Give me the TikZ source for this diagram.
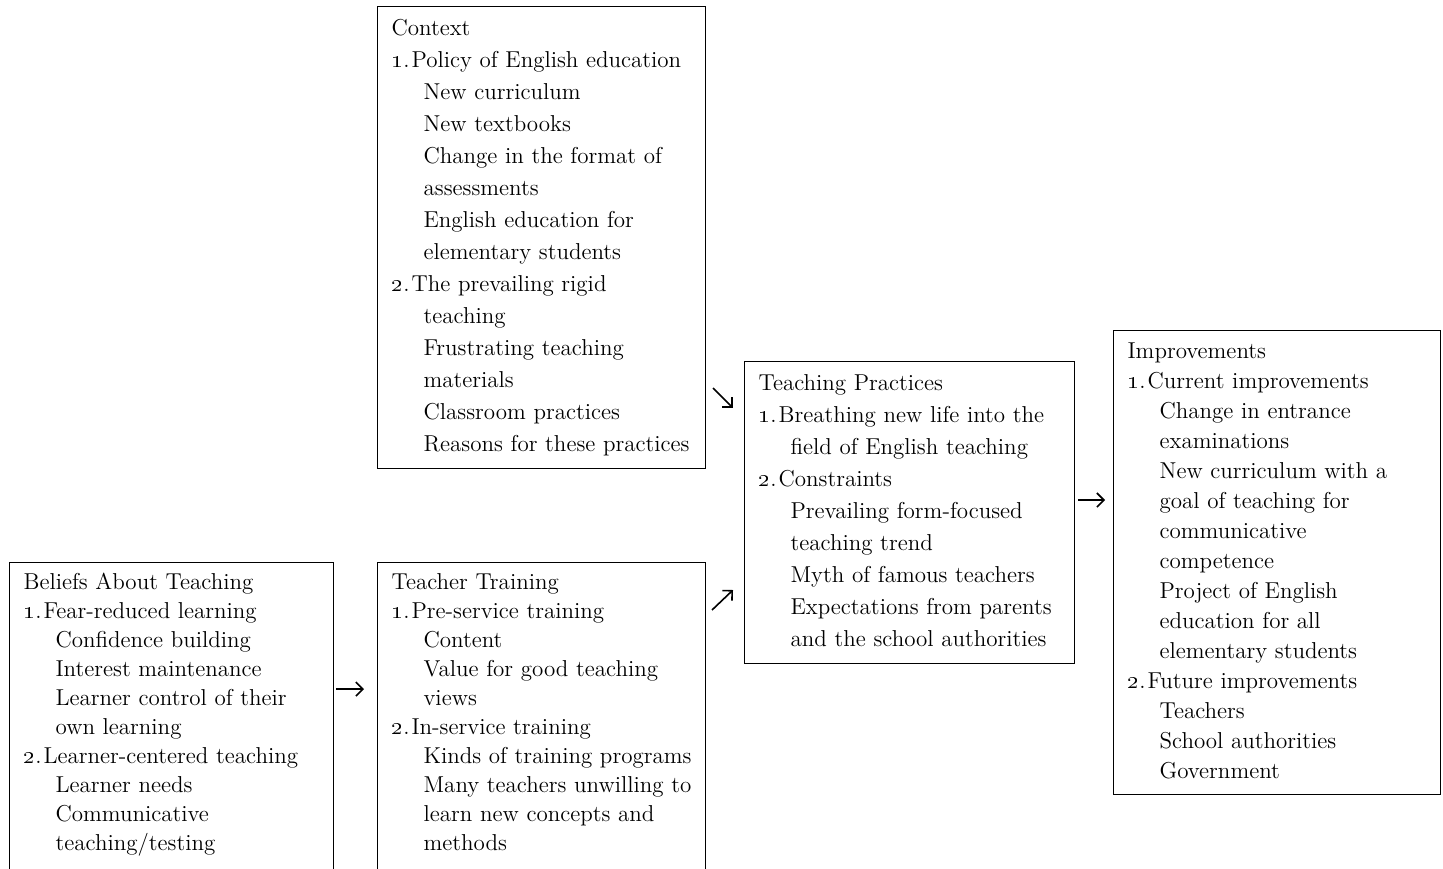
\documentclass[tikz,border=0pt]{standalone}
\usetikzlibrary{arrows.meta,positioning}
\newcommand{\boxhead}[1]{\strut #1}
\newcommand{\numline}[2]{\strut\makebox[10pt][l]{\oldstylenums{#1}.}\mbox{#2}}
\newcommand{\subline}[1]{\strut\hspace*{16pt}\mbox{#1}}
\tikzset
{
    panel/.style = {draw, line width=0.6pt, anchor=north west, align=left, text width=#1, inner xsep=7pt, inner ysep=3.4pt, font=\fontsize{11.5}{16}\selectfont},
    flow/.style  = {-{Straight Barb[length=3.5pt,width=7pt]}, line width=0.8pt}
}
\begin{document}
\begin{tikzpicture}[x=0.5pt, y=-0.5pt]
    \useasboundingbox (0,0) rectangle (1443,868);
    \clip (0,0) rectangle (1443,868);
    % the five panels
    \node [panel=150pt] (context) at (377,6) {\boxhead{Context}\\
        \numline{1}{Policy of English education}\\
        \subline{New curriculum}\\
        \subline{New textbooks}\\
        \subline{Change in the format of}\\
        \subline{assessments}\\
        \subline{English education for}\\
        \subline{elementary students}\\
        \numline{2}{The prevailing rigid}\\
        \subline{teaching}\\
        \subline{Frustrating teaching}\\
        \subline{materials}\\
        \subline{Classroom practices}\\
        \subline{Reasons for these practices}};
    \node [panel=148pt, font=\fontsize{11.5}{14.5}\selectfont] (beliefs) at (9,562) {\boxhead{Beliefs About Teaching}\\
        \numline{1}{Fear-reduced learning}\\
        \subline{Confidence building}\\
        \subline{Interest maintenance}\\
        \subline{Learner control of their}\\
        \subline{own learning}\\
        \numline{2}{Learner-centered teaching}\\
        \subline{Learner needs}\\
        \subline{Communicative}\\
        \subline{teaching/testing}\\
        \strut};
    \node [panel=150pt, font=\fontsize{11.5}{14.5}\selectfont] (training) at (377,562) {\boxhead{Teacher Training}\\
        \numline{1}{Pre-service training}\\
        \subline{Content}\\
        \subline{Value for good teaching}\\
        \subline{views}\\
        \numline{2}{In-service training}\\
        \subline{Kinds of training programs}\\
        \subline{Many teachers unwilling to}\\
        \subline{learn new concepts and}\\
        \subline{methods}\\
        \strut};
    \node [panel=151pt] (practices) at (744,361) {\boxhead{Teaching Practices}\\
        \numline{1}{Breathing new life into the}\\
        \subline{field of English teaching}\\
        \numline{2}{Constraints}\\
        \subline{Prevailing form-focused}\\
        \subline{teaching trend}\\
        \subline{Myth of famous teachers}\\
        \subline{Expectations from parents}\\
        \subline{and the school authorities}};
    \node [panel=149.5pt, font=\fontsize{11.5}{15}\selectfont] (improve) at (1113,330) {\boxhead{Improvements}\\
        \numline{1}{Current improvements}\\
        \subline{Change in entrance}\\
        \subline{examinations}\\
        \subline{New curriculum with a}\\
        \subline{goal of teaching for}\\
        \subline{communicative}\\
        \subline{competence}\\
        \subline{Project of English}\\
        \subline{education for all}\\
        \subline{elementary students}\\
        \numline{2}{Future improvements}\\
        \subline{Teachers}\\
        \subline{School authorities}\\
        \subline{Government}};
    % small arrows in the gaps
    \coordinate (b2t-s) at (336,689);
    \coordinate (b2t-e) at (364,689);
    \coordinate (c2p-s) at (713,388);
    \coordinate (c2p-e) at (733,408);
    \coordinate (t2p-s) at (712,610);
    \coordinate (t2p-e) at (733,590);
    \coordinate (p2i-s) at (1078,500);
    \coordinate (p2i-e) at (1105,500);
    \draw [flow] (b2t-s) -- (b2t-e);
    \draw [flow] (c2p-s) -- (c2p-e);
    \draw [flow] (t2p-s) -- (t2p-e);
    \draw [flow] (p2i-s) -- (p2i-e);
\end{tikzpicture}
\end{document}
